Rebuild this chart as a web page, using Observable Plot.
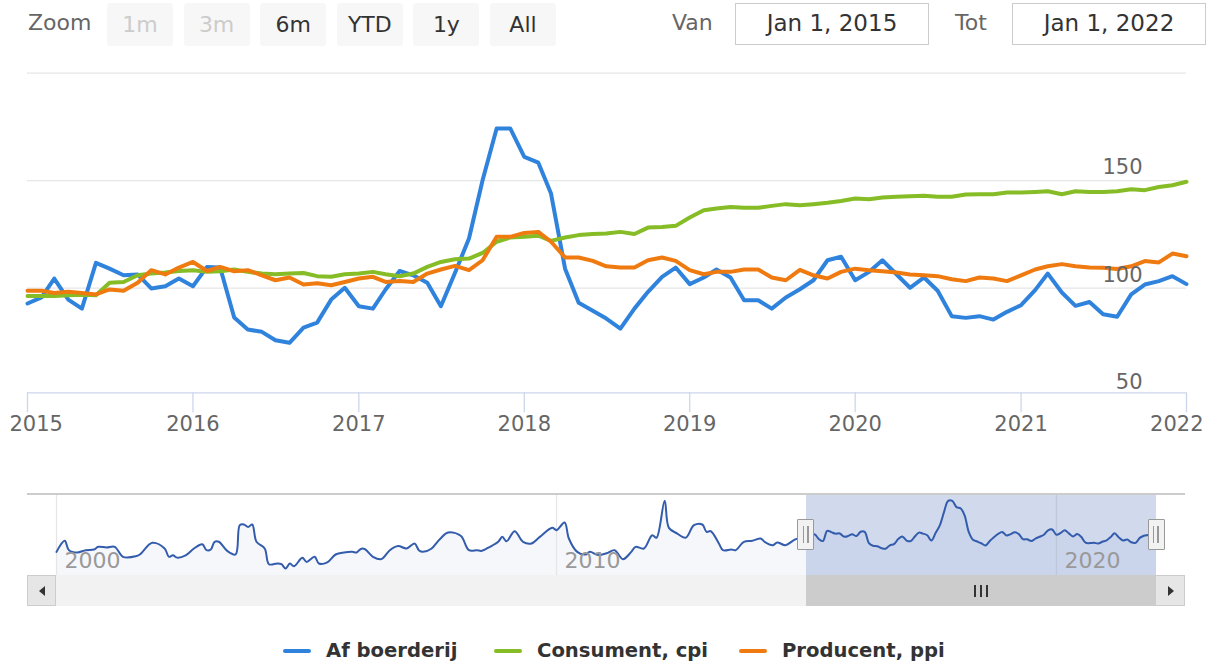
<!DOCTYPE html>
<html><head><meta charset="utf-8">
<script src="https://cdn.jsdelivr.net/npm/d3@7"></script>
<script src="https://cdn.jsdelivr.net/npm/@observablehq/plot@0.6"></script>
<style>
body{margin:0;background:#fff;font-family:"DejaVu Sans",sans-serif;}
#wrap{position:relative;width:1211px;height:664px;overflow:hidden;background:#fff;}
#wrap svg{position:absolute;left:0;}
.ov{position:absolute;z-index:5;box-sizing:border-box;}
.btn{top:3px;height:43px;width:66px;background:#f7f7f7;border-radius:3px;color:#333;font-size:22px;line-height:43px;text-align:center;}
.btn.dis{color:#cccccc;}
.lbl{color:#666;font-size:22px;line-height:26px;top:10px;}
.inp{top:3px;height:42px;width:194px;border:1.5px solid #ccc;color:#333;font-size:23px;line-height:39px;text-align:center;}
.legsym{height:4px;width:28px;top:649px;border-radius:2px;}
.legtxt{top:638px;height:26px;line-height:26px;font-weight:bold;font-size:19.6px;color:#333;white-space:nowrap;}
</style></head>
<body><div id="wrap"></div>
<script>
// ---------- data ----------
const seriesNames = ["Af boerderij", "Consument, cpi", "Producent, ppi"];
const seriesColors = ["#3083dc", "#86bc25", "#ef7b10"];
const startMonth = "2015-01", endMonth = "2022-01";
const afBoerderij = [
  92.9, 95.7, 104.5, 94.7, 90.5, 111.8, 109.1, 106, 106.4, 99.9, 100.9, 104.5,
  100.9, 109.9, 109.6, 86.4, 80.8, 79.7, 75.8, 74.6, 81.7, 84, 94.7, 100.2,
  91.6, 90.5, 99.4, 108, 106, 102.5, 91.6, 107.1, 123.1, 150.2, 174.3, 174.3,
  161.1, 158.4, 144, 109.1, 93.2, 89.5, 85.9, 81.2, 90.5, 98.3, 105.3, 109.6,
  101.9, 105, 108.7, 105, 94.4, 94.4, 90.5, 95.7, 99.5, 103.7, 113, 114.6,
  103.7, 107.6, 113, 106.5, 100.2, 105, 98.8, 87, 86.2, 87, 85.4, 89,
  92.1, 99.1, 106.8, 98, 91.8, 93.6, 87.9, 86.7, 97.1, 101.7, 103.3, 105.6,
  101.9];
const consument = [
  96.4, 96.4, 96.4, 96.7, 97, 96.7, 102.5, 102.9, 106, 106.8, 107.3, 108,
  108.4, 107.6, 107.9, 108.7, 107.6, 106.8, 106.5, 106.8, 107.1, 105.6, 105.3, 106.5,
  106.8, 107.6, 106.5, 105.6, 106.8, 109.9, 112.2, 113.5, 113.8, 116.4, 121.6, 123.6,
  123.9, 124.4, 122, 123.6, 124.7, 125.2, 125.4, 126.2, 125.2, 128.2, 128.5, 129,
  132.9, 136.3, 137.1, 137.8, 137.4, 137.4, 138.3, 139.1, 138.6, 139.1, 139.7, 140.6,
  141.7, 141.4, 142.2, 142.5, 142.8, 143, 142.5, 142.5, 143.6, 143.7, 143.7, 144.5,
  144.5, 144.8, 145.1, 143.7, 145.1, 144.8, 144.8, 145.1, 146, 145.6, 147.1, 147.9,
  149.5];
const producent = [
  98.8, 98.8, 97.8, 98.3, 97.8, 97.1, 99.4, 98.8, 102.5, 108.4, 106.4, 109.6,
  112.2, 108, 109.9, 107.9, 108.4, 106, 103.7, 105, 101.7, 102.3, 101.4, 102.9,
  104.5, 105.3, 102.9, 103.3, 102.9, 106.8, 108.7, 110.4, 108.4, 113, 123.9, 123.9,
  125.7, 126.2, 121.6, 114.3, 114.3, 112.7, 110.2, 109.6, 109.6, 113, 114.3, 112.7,
  108.4, 106.5, 107.6, 107.6, 108.7, 108.7, 105, 103.7, 108.5, 106, 104.5, 107.6,
  109.1, 108.4, 107.9, 107.3, 106.4, 106, 105.6, 104.2, 103.3, 105, 104.5, 103.3,
  106, 108.7, 110.2, 111.2, 110.2, 109.6, 109.5, 108.9, 110.2, 112.6, 112, 116.1,
  114.9];
// navigator: earlier history of "Af boerderij" (month, value)
const navEarlyMonths = ["2000-01","2000-03","2000-04","2000-06","2000-08","2000-10","2000-11","2001-01","2001-03","2001-05","2001-08","2001-09","2001-12",
  "2002-03","2002-04","2002-05","2002-06","2002-08","2002-10","2002-12","2003-01","2003-02","2003-03","2003-04","2003-06","2003-08","2003-09","2003-10","2003-11","2003-12",
  "2004-01","2004-03","2004-04","2004-06","2004-07","2004-08","2004-09","2004-10","2004-12","2005-01","2005-03","2005-04","2005-06","2005-08","2005-10","2005-12","2006-01","2006-02","2006-03","2006-05","2006-07","2006-09","2006-11","2007-01",
  "2007-03","2007-04","2007-05","2007-07","2007-09","2007-11","2008-02","2008-04","2008-06","2008-07","2008-09","2008-11","2008-12","2009-01","2009-03","2009-05","2009-07","2009-09","2009-12",
  "2010-01","2010-03","2010-04","2010-06","2010-08","2010-09","2010-11","2011-01","2011-03","2011-05","2011-07","2011-08","2011-10","2011-12","2012-01","2012-03","2012-04","2012-06","2012-08","2012-10","2012-12","2013-01","2013-02",
  "2013-04","2013-05","2013-07","2013-08","2013-10","2013-12","2014-02","2014-03","2014-05","2014-06","2014-08","2014-10","2014-11"];
const navEarlyValues = [68, 91, 71.5, 66.7, 71.5, 73, 78.5, 77, 78.5, 57.7, 58.7, 62.5, 86.8,
  75, 57.7, 60.7, 56, 60.7, 75, 84, 71.5, 73, 89, 89, 70, 62.5, 123.6, 125, 120, 125,
  89, 75, 42.3, 43.7, 42.3, 33.3, 43.7, 38, 55.6, 47, 57.7, 43.7, 46, 62.5, 66.7, 68, 66.7, 74, 74, 57.7, 52.8, 71.5, 80.2, 75,
  85.4, 71.5, 68, 74.5, 94.4, 108.3, 101.4, 71.5, 71.5, 70, 78.5, 89, 99.3, 90, 111, 89, 85.4, 99.3, 118,
  113.2, 129.2, 95.8, 68, 62.5, 68, 61.3, 65, 71.5, 52.8, 68, 78.5, 75, 102.8, 97.3, 174.3, 118, 106.2, 97.3, 123.6, 125, 109.7, 111,
  85.4, 71.5, 73, 71.5, 89, 91, 95.8, 89, 82, 87.5, 82, 92.5, 95.8];
const yearTicks = ["2015","2016","2017","2018","2019","2020","2021","2022"];
const yTickLabels = [50, 100, 150];
const yGrid = [100, 150, 200];
const yDomain = [51.35, 200];
const navTicks = ["2000", "2010", "2020"];
const navRange = ["2000-01", "2022-01"];
const navYDomain = [18.75, 187.5];
const selection = {from: "2015-01", to: "2022-01"};
const zoomButtons = ["1m", "3m", "6m", "YTD", "1y", "All"];
const zoomDisabled = ["1m", "3m"];
const fromLabel = "Jan 1, 2015", toLabel = "Jan 1, 2022";

// ---------- helpers ----------
const pm = s => { const [y, m] = s.split("-").map(Number); return new Date(Date.UTC(y, (m || 1) - 1, 1)); };
const months = d3.utcMonth.range(pm(startMonth), d3.utcMonth.offset(pm(endMonth), 1));
const rows = [afBoerderij, consument, producent].map(vals => vals.map((v, i) => ({date: months[i], value: v})));
const navData = navEarlyMonths.map((m, i) => ({date: pm(m), value: navEarlyValues[i]})).concat(rows[0]);
const years = yearTicks.map(pm);
const wrap = document.getElementById("wrap");

// ---------- main chart ----------
const main = Plot.plot({
  width: 1211, height: 440,
  marginLeft: 27, marginRight: 25, marginTop: 72.7, marginBottom: 47.7,
  style: {fontFamily: "DejaVu Sans", fontSize: "21px", background: "transparent", overflow: "visible"},
  x: {type: "utc", domain: [years[0], years[years.length - 1]]},
  y: {domain: yDomain},
  marks: [
    Plot.gridY(yGrid, {stroke: "#e6e6e6", strokeOpacity: 1, strokeWidth: 1.3}),
    Plot.ruleY([yDomain[0]], {stroke: "#ccd6eb", strokeWidth: 1.3}),
    Plot.axisX(years, {tickSize: 20, stroke: "#ccd6eb", strokeWidth: 1.3, fill: "none", label: null}),
    Plot.axisX(years.slice(1, -1), {tickSize: 20, tickPadding: 3, stroke: "none", fill: "#666", tickFormat: "%Y", fontSize: 21, label: null}),
    Plot.axisX(years.slice(0, 1), {tickSize: 20, tickPadding: 3, stroke: "none", fill: "#666", tickFormat: "%Y", fontSize: 21, textAnchor: "start", dx: -18, label: null}),
    Plot.axisX(years.slice(-1), {tickSize: 20, tickPadding: 3, stroke: "none", fill: "#666", tickFormat: "%Y", fontSize: 21, textAnchor: "end", dx: 17, label: null}),
    ...rows.map((r, i) => Plot.line(r, {x: "date", y: "value", stroke: seriesColors[i], strokeWidth: 4, strokeLinejoin: "round", strokeLinecap: "round"})),
    Plot.axisY(yTickLabels, {anchor: "right", tickSize: 0, tickPadding: 0, stroke: "none", fill: "#666", textAnchor: "end", dx: -44, dy: -13, fontSize: 21, label: null})
  ]
});
main.style.top = "0px";
wrap.appendChild(main);

// ---------- navigator ----------
const nav = Plot.plot({
  width: 1211, height: 130,
  marginLeft: 56, marginRight: 55, marginTop: 14, marginBottom: 35,
  style: {fontFamily: "DejaVu Sans", fontSize: "22px", background: "transparent", overflow: "visible"},
  x: {type: "utc", domain: navRange.map(pm)},
  y: {domain: navYDomain, axis: null},
  marks: [
    Plot.areaY(navData, {x: "date", y: "value", fill: "#335cad", fillOpacity: 0.05, curve: "catmull-rom", clip: true}),
    Plot.gridX(navTicks.map(pm), {stroke: "#e6e6e6", strokeOpacity: 1, strokeWidth: 1.3}),
    Plot.rect([selection], {x1: d => pm(d.from), x2: d => pm(d.to), fill: "rgb(102,133,194)", fillOpacity: 0.3}),
    Plot.lineY(navData, {x: "date", y: "value", stroke: "#335cad", strokeWidth: 2, curve: "catmull-rom"}),
    Plot.axisX(navTicks.map(pm), {tickSize: 0, tickPadding: 0, stroke: "none", fill: "#999", tickFormat: "%Y", textAnchor: "start", dx: 8, dy: -23, fontSize: 22, label: null})
  ]
});
nav.style.top = "480px";
wrap.appendChild(nav);

// ---------- HTML chrome (range selector, scrollbar, legend) ----------
function el(cls, css, text) {
  const d = document.createElement("div");
  d.className = "ov " + cls;
  Object.assign(d.style, css);
  if (text != null) d.textContent = text;
  wrap.appendChild(d);
  return d;
}
el("lbl", {left: "28px"}, "Zoom");
zoomButtons.forEach((b, i) => el("btn" + (zoomDisabled.includes(b) ? " dis" : ""), {left: (107 + i * 76.6) + "px"}, b));
el("lbl", {left: "672px"}, "Van");
el("inp", {left: "735px"}, fromLabel);
el("lbl", {left: "955px"}, "Tot");
el("inp", {left: "1012px"}, toLabel);

const nx = nav.scale("x");
const xa = nx.apply(pm(selection.from)), xb = nx.apply(pm(selection.to));
const navTop = 494, navBot = 575, sbBot = 606;
// outline
el("", {left: "27px", top: (navTop - 1) + "px", width: "1158px", height: "1.5px", background: "#cccccc"});
// scrollbar track
el("", {left: "27px", top: navBot + "px", width: "1158px", height: (sbBot - navBot) + "px", background: "#f2f2f2"});
// thumb
el("", {left: xa + "px", top: navBot + "px", width: (xb - xa) + "px", height: (sbBot - navBot) + "px", background: "#cccccc"});
// rifles
for (let k = -1; k <= 1; k++) el("", {left: ((xa + xb) / 2 + k * 6 - 0.75) + "px", top: (navBot + 10) + "px", width: "1.6px", height: "12px", background: "#333"});
// buttons
el("", {left: "27px", top: navBot + "px", width: "29px", height: (sbBot - navBot) + "px", background: "#e6e6e6", border: "1px solid #cccccc"});
el("", {left: "1155px", top: navBot + "px", width: "30px", height: (sbBot - navBot) + "px", background: "#e6e6e6", border: "1px solid #cccccc"});
el("", {left: "39px", top: "586px", width: "0", height: "0", borderTop: "5px solid transparent", borderBottom: "5px solid transparent", borderRight: "6px solid #333"});
el("", {left: "1168px", top: "586px", width: "0", height: "0", borderTop: "5px solid transparent", borderBottom: "5px solid transparent", borderLeft: "6px solid #333"});
// handles
[xa, xb].forEach(x => {
  el("", {left: (x - 8.5) + "px", top: "519px", width: "17px", height: "31px", background: "#f2f2f2", border: "1.5px solid #999", borderRadius: "1px"});
  [-2.5, 2].forEach(o => el("", {left: (x + o - 0.7) + "px", top: "526px", width: "1.4px", height: "17px", background: "#999"}));
});

// legend
const legX = [[283, 326], [494, 537], [739, 782]];
seriesNames.forEach((n, i) => {
  el("legsym", {left: legX[i][0] + "px", background: seriesColors[i]});
  el("legtxt", {left: legX[i][1] + "px"}, n);
});
</script></body></html>
